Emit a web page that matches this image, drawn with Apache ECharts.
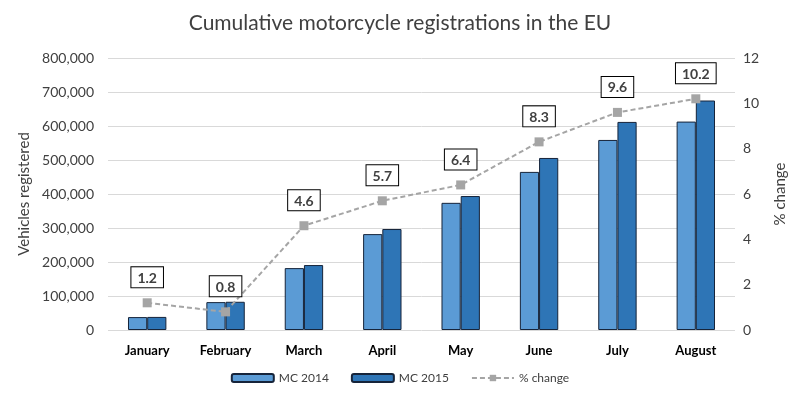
<!DOCTYPE html>
<html><head><meta charset="utf-8">
<script src="https://cdn.jsdelivr.net/npm/echarts@6/dist/echarts.min.js"></script>
<style>html,body{margin:0;padding:0;background:#fff}#c{width:800px;height:397px}</style>
</head><body><div id="c"></div>
<script>
const categories = ['January','February','March','April','May','June','July','August'];
const mc2014 = [38000, 82000, 182000, 282000, 374000, 465000, 559000, 613000];
const mc2015 = [38500, 83000, 191000, 297000, 394000, 506000, 612000, 675000];
const pctChange = [1.2, 0.8, 4.6, 5.7, 6.4, 8.3, 9.6, 10.2];
const leftTicks = [0, 800000, 100000];
const rightTicks = [0, 12, 2];

const FONT = 'Lato';
const chart = echarts.init(document.getElementById('c'));
chart.setOption({
  animation: false,
  textStyle: {fontFamily: FONT},
  title: {text: 'Cumulative motorcycle registrations in the EU', left: 'center', top: 8,
    textStyle: {fontFamily: FONT, fontSize: 21, fontWeight: 'normal', color: '#404040'}},
  legend: {bottom: 8, itemGap: 22, itemWidth: 42, itemHeight: 8,
    textStyle: {fontFamily: FONT, fontSize: 12, color: '#404040'},
    data: [{name: 'MC 2014'}, {name: 'MC 2015'}, {name: '% change'}]},
  grid: {left: 108, right: 65, top: 58, bottom: 67},
  xAxis: {type: 'category', data: categories,
    axisLine: {show: false}, axisTick: {show: false},
    axisLabel: {fontFamily: FONT, fontSize: 13, fontWeight: 'bold', color: '#000', margin: 14}},
  yAxis: [
    {type: 'value', min: leftTicks[0], max: leftTicks[1], interval: leftTicks[2],
     name: 'Vehicles registered', nameLocation: 'middle', nameRotate: 90, nameGap: 66,
     nameTextStyle: {fontFamily: FONT, fontSize: 15, color: '#404040'},
     axisLabel: {fontFamily: FONT, fontSize: 14, color: '#404040', margin: 14,
       formatter: v => v.toLocaleString('en-US')},
     splitLine: {lineStyle: {color: '#D9D9D9'}}},
    {type: 'value', min: rightTicks[0], max: rightTicks[1], interval: rightTicks[2],
     name: '% change', nameLocation: 'middle', nameRotate: 90, nameGap: 38,
     nameTextStyle: {fontFamily: FONT, fontSize: 15, color: '#404040'},
     axisLabel: {fontFamily: FONT, fontSize: 14, color: '#404040', margin: 8},
     splitLine: {show: false}}
  ],
  series: [
    {name: 'MC 2014', type: 'bar', data: mc2014, barGap: '0%', barCategoryGap: '51%',
     itemStyle: {color: '#5B9BD5', borderColor: '#16243A', borderWidth: 1}},
    {name: 'MC 2015', type: 'bar', data: mc2015,
     itemStyle: {color: '#2E75B6', borderColor: '#16243A', borderWidth: 1}},
    {name: '% change', type: 'line', yAxisIndex: 1, data: pctChange,
     symbol: 'rect', symbolSize: 9,
     lineStyle: {color: '#A5A5A5', width: 2, type: [5, 3]},
     itemStyle: {color: '#A5A5A5'},
     label: {show: true, position: 'top', distance: 11, fontFamily: FONT, fontSize: 14,
       fontWeight: 'bold', color: '#404040', backgroundColor: '#fff',
       borderColor: '#000', borderWidth: 1, padding: [4, 6, 2, 6]}}
  ]
});
</script></body></html>
